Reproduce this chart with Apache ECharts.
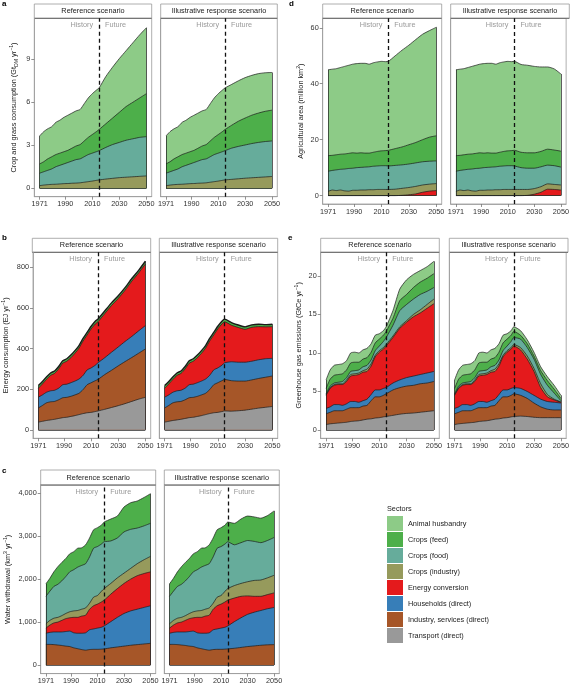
<!DOCTYPE html>
<html>
<head>
<meta charset="utf-8">
<title>Sector footprints</title>
<script src="https://cdn.jsdelivr.net/npm/echarts@6/dist/echarts.min.js"></script>
<style>
  html, body { margin: 0; padding: 0; background: #fff; }
  #chart { width: 572px; height: 685px; }
</style>
</head>
<body>
<div id="chart"></div>
<script>
// years: history is shared by both scenarios, future differs
const histYears = [1971, 1974, 1977, 1980, 1983, 1986, 1989, 1992, 1995, 1998, 2001, 2004, 2007, 2010, 2013, 2015]
const futYears = [2020, 2025, 2030, 2035, 2040, 2045, 2050]
const xTicks = [1971, 1990, 2010, 2030, 2050]

const sectors = ['Animal husbandry', 'Crops (feed)', 'Crops (food)', 'Crops (industry)',
  'Energy conversion', 'Households (direct)', 'Industry, services (direct)', 'Transport (direct)']
const sectorColors = ['#8dcb87', '#4daf4a', '#66ac9b', '#969a5c', '#e41a1c', '#377eb8', '#a65628', '#999999']

// values are the upper edge of each stacked layer (cumulative)
// a: crop and grass consumption (Gt DM / yr)
const cropAnimalHist = [3.65, 3.95, 4.15, 4.3, 4.6, 4.75, 4.95, 5.1, 5.25, 5.4, 5.5, 5.9, 6.3, 6.6, 6.85, 7.0]
const cropAnimalRef = [7.8, 8.45, 9.05, 9.6, 10.15, 10.7, 11.2]
const cropAnimalIrs = [7.25, 7.5, 7.72, 7.88, 8.0, 8.06, 8.08]
const cropFeedHist = [1.7, 1.85, 2.05, 2.2, 2.35, 2.45, 2.55, 2.65, 2.8, 2.95, 3.05, 3.3, 3.55, 3.75, 3.95, 4.1]
const cropFeedRef = [4.5, 4.9, 5.3, 5.7, 6.0, 6.3, 6.6]
const cropFeedIrs = [4.4, 4.68, 4.9, 5.1, 5.25, 5.37, 5.45]
const cropFoodHist = [1.05, 1.15, 1.25, 1.35, 1.5, 1.6, 1.7, 1.8, 1.9, 2.0, 2.05, 2.2, 2.35, 2.45, 2.55, 2.62]
const cropFoodRef = [2.85, 3.05, 3.2, 3.35, 3.45, 3.55, 3.6]
const cropFoodIrs = [2.8, 2.92, 3.02, 3.12, 3.2, 3.26, 3.3]
const cropIndustryHist = [0.18, 0.22, 0.25, 0.27, 0.28, 0.3, 0.32, 0.33, 0.35, 0.36, 0.38, 0.42, 0.46, 0.5, 0.55, 0.58]
const cropIndustryRef = [0.64, 0.69, 0.74, 0.77, 0.8, 0.83, 0.86]
const cropIndustryIrs = [0.62, 0.66, 0.7, 0.73, 0.76, 0.79, 0.82]

// b: energy consumption (EJ / yr)
const energyTopHist = [218, 238, 260, 280, 290, 312, 340, 350, 368, 390, 415, 450, 480, 510, 535, 545]
const energyTopRef = [585, 625, 660, 700, 745, 785, 830]
const energyTopIrs = [528, 516, 507, 517, 520, 518, 520]
const energyConvHist = [205, 226, 248, 268, 278, 300, 328, 338, 355, 377, 402, 437, 467, 497, 521, 532]
const energyConvRef = [572, 612, 647, 687, 732, 772, 816]
const energyConvIrs = [515, 504, 495, 505, 508, 507, 508]
const energyHouseHist = [161, 172, 185, 192, 195, 205, 222, 225, 232, 240, 250, 268, 295, 305, 318, 330]
const energyHouseRef = [355, 382, 408, 435, 460, 487, 513]
const energyHouseIrs = [335, 333, 333, 338, 345, 350, 352]
const energyServicesHist = [108, 120, 133, 138, 140, 148, 158, 160, 165, 172, 180, 198, 222, 232, 242, 248]
const energyServicesRef = [272, 293, 315, 336, 356, 377, 398]
const energyServicesIrs = [242, 240, 240, 246, 253, 259, 265]
const energyTransportHist = [38, 42, 46, 49, 52, 56, 60, 62, 66, 70, 75, 80, 84, 86, 90, 93]
const energyTransportRef = [101, 110, 119, 129, 140, 151, 160]
const energyTransportIrs = [92, 94, 97, 102, 107, 111, 115]

// c: water withdrawal (km3 / yr)
const waterFeedHist = [1890, 2020, 2170, 2290, 2390, 2480, 2590, 2640, 2720, 2730, 2800, 2960, 3150, 3200, 3260, 3330]
const waterFeedRef = [3400, 3470, 3680, 3780, 3820, 3900, 3990]
const waterFeedIrs = [3300, 3400, 3470, 3450, 3420, 3480, 3590]
const waterFoodHist = [1600, 1720, 1830, 1880, 1960, 2060, 2170, 2220, 2280, 2320, 2360, 2520, 2720, 2760, 2820, 2870]
const waterFoodRef = [2890, 2960, 3100, 3160, 3190, 3240, 3300]
const waterFoodIrs = [2800, 2850, 2900, 2880, 2850, 2900, 2970]
const waterIndustryHist = [960, 1040, 1090, 1110, 1150, 1200, 1240, 1260, 1270, 1300, 1330, 1440, 1580, 1620, 1720, 1780]
const waterIndustryRef = [1900, 2030, 2140, 2250, 2360, 2450, 2530]
const waterIndustryIrs = [1850, 1900, 1940, 1970, 1980, 2030, 2090]
const waterEnergyHist = [860, 930, 980, 1000, 1040, 1080, 1100, 1110, 1110, 1140, 1160, 1300, 1380, 1420, 1470, 1510]
const waterEnergyRef = [1650, 1780, 1900, 2000, 2080, 2130, 2170]
const waterEnergyIrs = [1560, 1600, 1610, 1600, 1600, 1640, 1680]
const waterHouseHist = [740, 760, 770, 770, 770, 780, 790, 750, 740, 740, 750, 820, 840, 860, 880, 910]
const waterHouseRef = [1010, 1110, 1200, 1260, 1300, 1340, 1380]
const waterHouseIrs = [1010, 1100, 1180, 1230, 1270, 1310, 1340]
const waterServicesHist = [480, 480, 475, 465, 455, 440, 430, 400, 380, 360, 345, 360, 365, 365, 370, 375]
const waterServicesRef = [400, 420, 440, 460, 475, 490, 505]
const waterServicesIrs = [390, 410, 430, 445, 460, 470, 475]

// d: agricultural area (million km2)
const landAnimalHist = [45.0, 45.2, 45.4, 45.8, 46.2, 46.6, 47.0, 47.2, 47.3, 47.3, 47.0, 47.5, 47.8, 48.0, 47.9, 48.0]
const landAnimalRef = [50.0, 52.0, 53.8, 55.8, 57.7, 59.0, 60.2]
const landAnimalIrs = [46.9, 46.6, 46.2, 46.0, 46.0, 45.3, 43.5]
const landFeedHist = [14.3, 14.4, 14.6, 14.8, 14.9, 15.1, 15.3, 15.2, 15.3, 15.2, 15.2, 15.5, 15.8, 16.0, 16.1, 16.2]
const landFeedRef = [16.8, 17.4, 18.2, 19.0, 20.0, 20.9, 21.4]
const landFeedIrs = [15.5, 15.3, 15.3, 15.8, 16.6, 16.3, 15.9]
const landFoodHist = [8.7, 9.0, 9.2, 9.4, 9.5, 9.7, 9.8, 10.0, 10.1, 10.2, 10.3, 10.5, 10.6, 10.7, 10.7, 10.6]
const landFoodRef = [10.8, 11.0, 11.3, 11.7, 12.1, 12.3, 12.4]
const landFoodIrs = [10.0, 9.8, 9.8, 10.3, 10.9, 10.7, 10.2]
const landIndustryHist = [1.5, 2.0, 1.8, 2.0, 1.7, 1.6, 1.9, 1.9, 2.0, 2.0, 2.1, 2.1, 2.2, 2.2, 2.2, 2.2]
const landIndustryRef = [2.3, 2.6, 2.9, 3.3, 3.8, 4.1, 4.3]
const landIndustryIrs = [2.2, 2.2, 2.5, 3.2, 4.2, 4.0, 3.8]
const landEnergyHist = [0, 0, 0, 0, 0, 0, 0, 0, 0, 0, 0, 0, 0, 0, 0, 0]
const landEnergyRef = [0, 0.1, 0.3, 0.6, 1.2, 1.6, 1.8]
const landEnergyIrs = [0, 0.1, 0.5, 1.2, 2.3, 2.2, 2.0]

// e: greenhouse gas emissions (GtCe / yr)
const ghgAnimalHist = [6.5, 7.8, 8.4, 8.5, 8.6, 9.0, 10.0, 10.1, 10.0, 10.4, 10.6, 11.2, 12.3, 12.5, 12.9, 13.4]
const ghgAnimalRef = [15.5, 18.3, 19.5, 20.2, 20.7, 21.2, 21.9]
const ghgAnimalIrs = [12.9, 11.7, 10.1, 8.2, 6.9, 5.8, 4.5]
const ghgFeedHist = [5.4, 6.6, 7.1, 7.2, 7.3, 7.8, 8.7, 8.8, 8.8, 9.2, 9.4, 10.1, 11.3, 11.8, 12.3, 12.8]
const ghgFeedRef = [14.5, 16.8, 17.6, 18.5, 19.2, 19.7, 20.3]
const ghgFeedIrs = [12.3, 11.2, 9.6, 7.7, 6.4, 5.3, 4.1]
const ghgFoodHist = [4.7, 5.7, 6.1, 6.2, 6.3, 6.8, 7.6, 7.7, 7.8, 8.2, 8.4, 9.1, 10.3, 10.9, 11.5, 12.0]
const ghgFoodRef = [13.6, 15.5, 16.3, 17.0, 17.6, 18.0, 18.5]
const ghgFoodIrs = [11.8, 10.7, 9.2, 7.2, 5.8, 4.8, 3.8]
const ghgIndustryHist = [4.6, 5.5, 5.9, 6.0, 6.0, 6.5, 7.2, 7.3, 7.4, 7.7, 7.9, 8.6, 9.7, 10.3, 10.7, 11.1]
const ghgIndustryRef = [12.2, 13.4, 14.2, 15.0, 15.6, 16.3, 17.0]
const ghgIndustryIrs = [10.7, 9.6, 8.0, 6.0, 4.6, 4.0, 3.65]
const ghgEnergyHist = [4.5, 5.4, 5.8, 5.9, 5.9, 6.3, 7.0, 7.1, 7.2, 7.5, 7.6, 8.3, 9.5, 10.1, 10.5, 10.9]
const ghgEnergyRef = [12.0, 13.2, 14.0, 14.7, 15.2, 15.8, 16.4]
const ghgEnergyIrs = [10.4, 9.2, 7.6, 5.5, 4.3, 3.9, 3.6]
const ghgHouseHist = [2.8, 3.0, 3.3, 3.3, 3.2, 3.4, 3.7, 3.7, 3.6, 3.8, 4.0, 4.6, 5.2, 5.2, 5.4, 5.5]
const ghgHouseRef = [6.1, 6.5, 6.8, 7.0, 7.2, 7.4, 7.6]
const ghgHouseIrs = [5.4, 5.0, 4.5, 4.0, 3.7, 3.6, 3.5]
const ghgServicesHist = [2.1, 2.3, 2.5, 2.5, 2.5, 2.7, 2.9, 2.9, 2.9, 3.1, 3.2, 3.8, 4.3, 4.3, 4.5, 4.7]
const ghgServicesRef = [5.2, 5.5, 5.7, 5.8, 6.0, 6.1, 6.3]
const ghgServicesIrs = [4.5, 4.1, 3.5, 3.0, 2.7, 2.6, 2.6]
const ghgTransportHist = [0.7, 0.8, 0.85, 0.9, 0.95, 1.0, 1.1, 1.15, 1.2, 1.3, 1.4, 1.45, 1.55, 1.6, 1.7, 1.75]
const ghgTransportRef = [1.9, 2.05, 2.15, 2.2, 2.3, 2.4, 2.5]
const ghgTransportIrs = [1.8, 1.75, 1.65, 1.6, 1.6, 1.6, 1.6]

const font = 'Liberation Sans, Arial, Helvetica, sans-serif'
const fs = 7.3
const scenarios = ['Reference scenario', 'Illustrative response scenario']

// panel layout (layers listed top-down, drawn in that order)
const panels = [
  { letter: 'a', letterPos: [2, 0], name: 'Crop and grass consumption (Gt{sub|DM} yr{sup|−1})',
    yMin: -0.59, yMax: 11.86, yTicks: [0, 3, 6, 9], lefts: [34.3, 160.7], widths: [117.4, 116.6],
    top: 18.3, height: 178.4, stripH: 14.3, nameGap: 15, topLine: 0.7,
    layers: [[0, cropAnimalHist, cropAnimalRef, cropAnimalIrs], [1, cropFeedHist, cropFeedRef, cropFeedIrs],
      [2, cropFoodHist, cropFoodRef, cropFoodIrs], [3, cropIndustryHist, cropIndustryRef, cropIndustryIrs]] },
  { letter: 'd', letterPos: [289, 0], name: 'Agricultural area (million km{sup|2})',
    yMin: -3.0, yMax: 63.4, yTicks: [0, 20, 40, 60], lefts: [322.7, 450.7], widths: [119, 118.6],
    top: 18.3, height: 185.7, stripH: 14.3, nameGap: 17, topLine: 0.7,
    layers: [[0, landAnimalHist, landAnimalRef, landAnimalIrs], [1, landFeedHist, landFeedRef, landFeedIrs],
      [2, landFoodHist, landFoodRef, landFoodIrs], [3, landIndustryHist, landIndustryRef, landIndustryIrs],
      [4, landEnergyHist, landEnergyRef, landEnergyIrs]] },
  { letter: 'b', letterPos: [2, 234], name: 'Energy consumption (EJ yr{sup|−1})',
    yMin: -41.6, yMax: 874, yTicks: [0, 200, 400, 600, 800], lefts: [32.3, 159.3], widths: [118.4, 118.4],
    top: 252.3, height: 186, stripH: 14, nameGap: 22, topLine: 1.4,
    layers: [[1, energyTopHist, energyTopRef, energyTopIrs], [4, energyConvHist, energyConvRef, energyConvIrs],
      [5, energyHouseHist, energyHouseRef, energyHouseIrs], [6, energyServicesHist, energyServicesRef, energyServicesIrs],
      [7, energyTransportHist, energyTransportRef, energyTransportIrs]] },
  { letter: 'e', letterPos: [288, 234], name: 'Greenhouse gas emissions (GtCe yr{sup|−1})',
    yMin: -1.08, yMax: 23.07, yTicks: [0, 5, 10, 15, 20], lefts: [320.7, 449.3], widths: [118.6, 118.7],
    top: 252.3, height: 186, stripH: 14, nameGap: 17, topLine: 0.7,
    layers: [[0, ghgAnimalHist, ghgAnimalRef, ghgAnimalIrs], [1, ghgFeedHist, ghgFeedRef, ghgFeedIrs],
      [2, ghgFoodHist, ghgFoodRef, ghgFoodIrs], [3, ghgIndustryHist, ghgIndustryRef, ghgIndustryIrs],
      [4, ghgEnergyHist, ghgEnergyRef, ghgEnergyIrs], [5, ghgHouseHist, ghgHouseRef, ghgHouseIrs],
      [6, ghgServicesHist, ghgServicesRef, ghgServicesIrs], [7, ghgTransportHist, ghgTransportRef, ghgTransportIrs]] },
  { letter: 'c', letterPos: [2, 467], name: 'Water withdrawal (km{sup|3} yr{sup|−1})',
    yMin: -200, yMax: 4193, yTicks: [0, 1000, 2000, 3000, 4000], lefts: [40.7, 164.3], widths: [115, 115],
    top: 485, height: 188.6, stripH: 15, nameGap: 28, topLine: 0.7,
    layers: [[1, waterFeedHist, waterFeedRef, waterFeedIrs], [2, waterFoodHist, waterFoodRef, waterFoodIrs],
      [3, waterIndustryHist, waterIndustryRef, waterIndustryIrs], [4, waterEnergyHist, waterEnergyRef, waterEnergyIrs],
      [5, waterHouseHist, waterHouseRef, waterHouseIrs], [6, waterServicesHist, waterServicesRef, waterServicesIrs]] }
]

const grids = []
const xAxes = []
const yAxes = []
const series = []
const graphics = []
const titles = [{ text: 'Sectors', left: 387, top: 505, padding: 0,
  textStyle: { fontSize: fs, fontWeight: 'normal', color: '#222', fontFamily: font } }]

const axisGray = '#9a9a9a'
const edgeStyle = { color: '#1a1a1a', width: 0.7, type: 'solid' }

panels.forEach(p => {
  titles.push({ text: p.letter, left: p.letterPos[0], top: p.letterPos[1], padding: 0,
    textStyle: { fontSize: 8, fontWeight: 'bold', color: '#000', fontFamily: font } })
  const textY = p.yMax - 6.7 / p.height * (p.yMax - p.yMin)
  ;[0, 1].forEach(k => {
    const gi = grids.length
    const left = p.lefts[k]
    const width = p.widths[k]
    grids.push({ left: left, top: p.top, width: width, height: p.height, show: true,
      borderColor: axisGray, borderWidth: 0.8, backgroundColor: '#fff' })
    xAxes.push({
      gridIndex: gi, type: 'value', min: 1967.05, max: 2053.95,
      splitLine: { show: false },
      axisLine: { show: true, onZero: false, lineStyle: { color: axisGray, width: 0.8 } },
      axisTick: { show: true, length: 3, customValues: xTicks, lineStyle: { color: '#777', width: 0.8 } },
      axisLabel: { customValues: xTicks, fontSize: fs, color: '#333', margin: 4, fontFamily: font,
        formatter: v => String(v) }
    })
    yAxes.push({
      gridIndex: gi, type: 'value', min: p.yMin, max: p.yMax,
      splitLine: { show: false },
      axisLine: { show: true, onZero: false, lineStyle: { color: axisGray, width: 0.8 } },
      axisTick: { show: k === 0, length: 3, customValues: p.yTicks, lineStyle: { color: '#777', width: 0.8 } },
      axisLabel: { show: k === 0, customValues: p.yTicks, fontSize: fs, color: '#333', margin: 4, fontFamily: font,
        formatter: v => v.toLocaleString('en-US') },
      name: k === 0 ? p.name : '', nameLocation: 'middle', nameGap: p.nameGap,
      nameTextStyle: { fontSize: fs, color: '#222', fontFamily: font, lineHeight: 10,
        rich: { sub: { fontSize: 5.2, verticalAlign: 'bottom', lineHeight: 10, fontFamily: font, color: '#222' },
                sup: { fontSize: 5.2, verticalAlign: 'top', lineHeight: 10, fontFamily: font, color: '#222' } } }
    })
    // facet strip
    const sTop = p.top - p.stripH
    graphics.push({ type: 'rect', shape: { x: left, y: sTop, width: width, height: p.stripH },
      style: { fill: '#fff', stroke: axisGray, lineWidth: 0.8 }, silent: true })
    graphics.push({ type: 'line', shape: { x1: left, y1: p.top, x2: left + width, y2: p.top },
      style: { stroke: '#555', lineWidth: 0.8 }, silent: true })
    graphics.push({ type: 'text', x: left + width / 2, y: sTop + p.stripH / 2, silent: true,
      style: { text: scenarios[k], fontSize: fs, fontFamily: font, fill: '#222',
        align: 'center', verticalAlign: 'middle', textAlign: 'center', textVerticalAlign: 'middle' } })

    const top = p.layers[0]
    const topFut = k === 0 ? top[2] : top[3]
    p.layers.forEach((l, j) => {
      const fut = k === 0 ? l[2] : l[3]
      const data = histYears.map((y, i) => [y, l[1][i]]).concat(futYears.map((y, i) => [y, fut[i]]))
      const s = {
        type: 'line', name: sectors[l[0]], xAxisIndex: gi, yAxisIndex: gi, data: data,
        symbol: 'none', smooth: 0.2, silent: true,
        lineStyle: { color: '#1a1a1a', width: j === 0 ? p.topLine : 0.7 },
        itemStyle: { color: sectorColors[l[0]] },
        areaStyle: { color: sectorColors[l[0]], opacity: 1 }
      }
      if (j === p.layers.length - 1) {
        s.markLine = {
          silent: true, symbol: 'none', animation: false, label: { show: false },
          lineStyle: edgeStyle,
          data: [
            { xAxis: 2015, lineStyle: { type: [4, 3], color: '#111', width: 1.3 } },
            [{ coord: [1971, 0], lineStyle: edgeStyle }, { coord: [2050, 0] }],
            [{ coord: [1971, 0], lineStyle: edgeStyle }, { coord: [1971, top[1][0]] }],
            [{ coord: [2050, 0], lineStyle: edgeStyle }, { coord: [2050, topFut[topFut.length - 1]] }]
          ]
        }
        s.markPoint = {
          silent: true, symbol: 'circle', symbolSize: 0, animation: false,
          label: { show: true, color: '#9a9a9a', fontSize: fs, fontFamily: font },
          data: [
            { coord: [2015, textY], label: { formatter: 'History', position: 'left', distance: 6 } },
            { coord: [2015, textY], label: { formatter: 'Future', position: 'right', distance: 6 } }
          ]
        }
      }
      series.push(s)
    })
  })
})

const myChart = echarts.init(document.getElementById('chart'))
myChart.setOption({
  animation: false,
  textStyle: { fontFamily: font },
  title: titles,
  grid: grids,
  xAxis: xAxes,
  yAxis: yAxes,
  legend: {
    data: sectors, orient: 'vertical', left: 387, top: 516, padding: 0,
    itemWidth: 16, itemHeight: 15, itemGap: 1, icon: 'rect', selectedMode: false,
    itemStyle: { borderWidth: 0 },
    textStyle: { fontSize: fs, color: '#222', fontFamily: font }
  },
  graphic: graphics,
  series: series
})
</script>
</body>
</html>
